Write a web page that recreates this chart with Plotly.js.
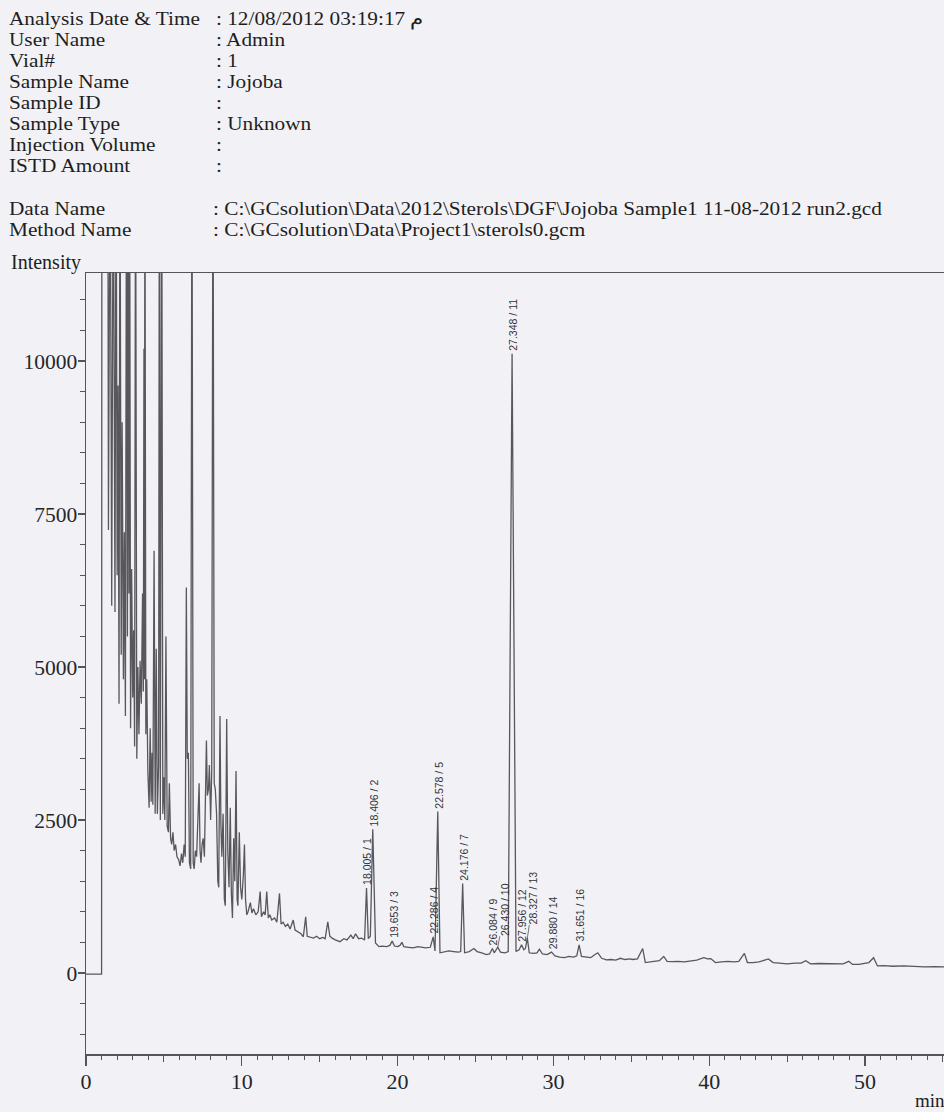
<!DOCTYPE html>
<html>
<head>
<meta charset="utf-8">
<script src="https://cdn.plot.ly/plotly-3.0.1.min.js"></script>
<style>
html,body{margin:0;padding:0;background:#f2f2f6;}
#wrap{position:relative;width:944px;height:1112px;overflow:hidden;}
#chart{position:absolute;left:0;top:0;width:944px;height:1112px;}
.hdr{position:absolute;font-family:"Liberation Serif","Times New Roman",serif;color:#1e1e22;white-space:pre;pointer-events:none;}
.hdr div{height:21.07px;line-height:21.07px;font-size:19px;transform:scaleX(1.12);transform-origin:0 50%;}
</style>
</head>
<body>
<div id="wrap">
<div id="chart"></div>
<div class="hdr" id="hLab" style="left:9px;top:8px;"></div>
<div class="hdr" id="hVal" style="left:216px;top:8px;"></div>
<div class="hdr" id="fLab" style="left:9px;top:197.5px;"></div>
<div class="hdr" id="fVal" style="left:213px;top:197.5px;"></div>
</div>
<script>
// ---------- text content ----------
const headerLabels = ["Analysis Date & Time","User Name","Vial#","Sample Name","Sample ID","Sample Type","Injection Volume","ISTD Amount"];
const headerValues = [": 12/08/2012 03:19:17 م",": Admin",": 1",": Jojoba",":",": Unknown",":",":"];
const fileLabels = ["Data Name","Method Name"];
const fileValues = [": C:\\GCsolution\\Data\\2012\\Sterols\\DGF\\Jojoba Sample1 11-08-2012 run2.gcd",
                    ": C:\\GCsolution\\Data\\Project1\\sterols0.gcm"];
const yAxisName = "Intensity";
const xAxisName = "min";

// ---------- chromatogram (retention time in min, intensity) ----------
const retentionTime = [
 0,0.98,1.00,1.02,1.40,1.44,1.55,1.65,1.75,1.86,1.93,2.00,2.06,2.12,2.18,2.26,2.32,2.40,2.46,2.53,
 2.60,2.66,2.71,2.76,2.80,2.86,2.93,3.00,3.06,3.12,3.18,3.26,3.33,3.40,3.47,3.55,3.63,3.68,3.72,3.75,
 3.78,3.84,3.90,3.97,4.05,4.12,4.18,4.24,4.29,4.37,4.44,4.51,4.58,4.66,4.71,4.77,4.86,4.93,5.00,5.06,
 5.13,5.21,5.29,5.35,5.43,5.50,5.58,5.66,5.75,5.84,5.95,6.04,6.13,6.21,6.30,6.37,6.44,6.50,6.57,6.64,
 6.72,6.80,6.88,6.94,7.02,7.10,7.18,7.26,7.32,7.38,7.45,7.52,7.60,7.67,7.73,7.79,7.86,7.92,8.00,8.07,
 8.15,8.23,8.30,8.38,8.46,8.52,8.60,8.66,8.72,8.80,8.88,8.94,9.03,9.10,9.18,9.26,9.33,9.40,9.48,9.55,
 9.63,9.70,9.75,9.84,9.92,10.00,10.10,10.17,10.24,10.32,10.40,10.55,10.65,10.75,10.90,11.05,11.18,11.26,11.40,11.50,
 11.60,11.70,11.80,11.92,12.10,12.25,12.42,12.52,12.65,12.80,12.95,13.10,13.30,13.42,13.60,13.80,13.95,14.10,14.20,14.40,
 14.60,14.80,15.00,15.20,15.35,15.52,15.65,15.80,16.00,16.30,16.55,16.75,17.00,17.15,17.30,17.50,17.70,17.88,18.005,18.12,
 18.25,18.406,18.58,18.80,19.00,19.30,19.50,19.653,19.80,20.00,20.15,20.28,20.40,20.70,21.00,21.30,21.50,21.80,22.10,22.286,
 22.40,22.578,22.72,23.00,23.30,23.60,23.90,24.05,24.176,24.30,24.60,24.90,25.10,25.40,25.70,25.90,26.084,26.20,26.430,26.60,
 26.90,27.10,27.348,27.60,27.80,27.956,28.10,28.20,28.327,28.45,28.70,28.95,29.10,29.30,29.60,29.880,30.10,30.40,30.70,31.00,
 31.30,31.50,31.651,31.80,32.10,32.40,32.60,32.85,33.10,33.40,33.70,34.00,34.30,34.60,34.90,35.10,35.40,35.73,35.90,36.20,
 36.50,36.80,37.08,37.30,37.60,38.00,38.40,38.80,39.20,39.65,39.90,40.10,40.40,40.80,41.20,41.60,41.90,42.26,42.45,42.80,
 43.20,43.80,44.10,44.50,45.00,45.50,45.90,46.20,46.50,47.00,47.50,48.00,48.60,48.96,49.20,49.60,50.00,50.25,50.55,50.80,
 51.20,51.80,52.50,53.20,53.80,54.50,55.20
];
const intensity = [
 -20,-20,-20,14000,14000,7240,14000,6000,14000,5900,14000,6500,9600,4400,14000,5200,9000,4800,7200,4200,
 14000,5500,14000,6200,14000,4000,6600,4500,5600,3700,14000,3500,5000,3900,5100,4400,6200,4600,10200,4800,
 14000,3900,4800,3300,2700,4000,2800,3600,2750,6900,2600,5300,2600,3400,14000,2500,14000,2600,3200,2500,
 5500,2400,2300,3100,2200,2100,2300,2000,2100,1900,1850,1750,1950,1800,2100,1900,6300,3500,3600,1800,
 1700,14000,1800,1700,2000,1900,2400,3100,2000,1800,2100,2200,1900,2800,3800,2900,3000,3400,2500,3300,
 14000,3100,3000,2600,1500,1400,4200,2400,1900,2600,1200,1100,4150,2000,1400,2700,1300,900,2200,1500,
 3300,1200,1100,2300,1400,1200,1600,2100,1200,950,1000,1150,980,1050,950,1000,1330,920,1000,950,
 1330,900,950,865,900,830,1300,800,830,760,800,720,865,700,674,640,592,918,600,580,
 570,600,560,580,560,837,600,570,540,511,560,540,620,560,640,560,570,540,1390,560,
 600,2350,490,430,440,430,450,520,440,430,450,500,430,420,410,430,420,410,420,590,
 360,2640,330,340,360,350,340,350,1460,330,350,400,350,330,300,310,400,330,420,340,
 330,350,10120,350,380,460,380,400,570,330,320,330,390,310,300,340,280,260,250,270,
 260,280,460,270,260,250,290,330,240,215,220,210,240,220,230,220,230,400,170,180,
 190,200,270,190,185,190,180,200,210,250,230,235,170,180,190,180,190,320,170,170,
 180,230,170,160,150,160,160,200,150,155,150,145,150,190,140,140,160,170,250,115,
 120,110,115,105,100,105,100
];

// ---------- labelled peaks ----------
const peakTimes = [18.005,18.406,19.653,22.286,22.578,24.176,26.084,26.430,27.348,27.956,28.327,29.880,31.651];
const peakNames = ["18.005 / 1","18.406 / 2","19.653 / 3","22.286 / 4","22.578 / 5","24.176 / 7","26.084 / 9",
                   "26.430 / 10","27.348 / 11","27.956 / 12","28.327 / 13","29.880 / 14","31.651 / 16"];
const peakTops = [1390,2350,520,590,2640,1460,400,420,10120,460,570,340,460];

// ---------- axis ticks ----------
const xTickVals = [0,10,20,30,40,50];
const yTickVals = [0,2500,5000,7500,10000];

// ---------- header text (HTML rows) ----------
function fillRows(id, arr){
  const el = document.getElementById(id);
  arr.forEach(s => { const d = document.createElement('div'); d.textContent = s; el.appendChild(d); });
}
fillRows('hLab', headerLabels);
fillRows('hVal', headerValues);
fillRows('fLab', fileLabels);
fillRows('fVal', fileValues);

// ---------- geometry (pixels) ----------
const L = 86, R = 944, T = 273, B = 1054;
const PW = R - L, PH = B - T;
const px = x => (x - L) / PW;
const py = y => (B - y) / PH;

const serif = "Liberation Serif, Times New Roman, serif";
const textColor = "#1e1e22";
const annotations = [];

annotations.push({xref:'paper', yref:'paper', x:px(9), y:py(262), xanchor:'left', yanchor:'middle',
  text:yAxisName, showarrow:false, font:{family:serif, size:20, color:textColor}});
annotations.push({xref:'paper', yref:'paper', x:px(913), y:py(1100), xanchor:'left', yanchor:'middle',
  text:xAxisName, showarrow:false, font:{family:serif, size:19, color:textColor}});

// peak labels (some with short leader lines)
const leader = {7:{ax:7, ay:-38}, 10:{ax:6, ay:-40}};
peakTimes.forEach((t, i) => {
  const base = {x:t, y:peakTops[i], xref:'x', yref:'y', text:peakNames[i], textangle:-90,
    font:{family:'Liberation Sans, Arial, sans-serif', size:10.5, color:'#333336'}, borderpad:0};
  if (leader[i]) {
    Object.assign(base, {showarrow:true, arrowhead:0, arrowwidth:0.8, arrowcolor:'#555', ax:leader[i].ax, ay:leader[i].ay, standoff:0});
  } else {
    Object.assign(base, {showarrow:false, xanchor:'center', yanchor:'bottom', yshift:2, xshift:1});
  }
  annotations.push(base);
});

const axisColor = '#555559';
const traces = [
  {x:retentionTime, y:intensity, type:'scatter', mode:'lines', line:{color:'#58585c', width:1.3}, hoverinfo:'skip'},
  {x:[], y:[], type:'scatter', mode:'lines', xaxis:'x2', yaxis:'y', hoverinfo:'skip'}
];

const layout = {
  width:944, height:1112,
  margin:{l:L, r:944-R, t:T, b:1112-B, pad:0},
  paper_bgcolor:'#f2f2f6', plot_bgcolor:'#f2f2f6',
  showlegend:false,
  xaxis:{range:[0, PW/15.58], tickvals:xTickVals, ticktext:xTickVals.map(String), ticks:'outside', ticklen:10, tickwidth:1.2,
    tickcolor:axisColor, showline:true, linecolor:axisColor, linewidth:1.5, mirror:true, showgrid:false, zeroline:false,
    ticklabelstandoff:-3,
    tickfont:{family:serif, size:22, color:'#26262a'},
    minor:{dtick:1, tick0:0, ticks:'outside', ticklen:4, tickwidth:1, tickcolor:axisColor, showgrid:false}},
  xaxis2:{overlaying:'x', anchor:'y', side:'bottom', range:[0, PW/15.58], tickvals:[5,15,25,35,45,55], ticks:'outside',
    ticklen:7, tickwidth:1, tickcolor:axisColor, showticklabels:false, showline:false, showgrid:false, zeroline:false},
  yaxis:{range:[-1324, 11438], tickvals:yTickVals, ticktext:yTickVals.map(String), ticks:'outside', ticklen:7, tickwidth:1.2,
    tickcolor:axisColor, showline:true, linecolor:axisColor, linewidth:1.5, showgrid:false, zeroline:false,
    ticklabelstandoff:-4,
    tickfont:{family:serif, size:21.5, color:'#26262a'},
    minor:{dtick:500, tick0:0, ticks:'outside', ticklen:5, tickwidth:1, tickcolor:axisColor, showgrid:false}},
  annotations:annotations
};

Plotly.newPlot('chart', traces, layout, {displayModeBar:false, staticPlot:true});
</script>
</body>
</html>
